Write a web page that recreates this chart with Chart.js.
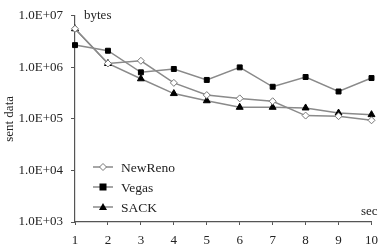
<!DOCTYPE html>
<html>
<head>
<meta charset="utf-8">
<script src="https://cdn.jsdelivr.net/npm/chart.js@4/dist/chart.umd.min.js"></script>
<style>
  html, body { margin: 0; padding: 0; background: #fff; }
  #wrap { width: 386px; height: 250px; }
</style>
</head>
<body>
<div id="wrap"><canvas id="chart" width="386" height="250"></canvas></div>
<script>
const seconds = ["1", "2", "3", "4", "5", "6", "7", "8", "9", "10"];
const newReno = [5.6e6, 1.19e6, 1.34e6, 5.0e5, 2.9e5, 2.5e5, 2.2e5, 1.16e5, 1.13e5, 9.4e4];
const vegas = [2.7e6, 2.1e6, 8.0e5, 9.3e5, 5.7e5, 1.0e6, 4.2e5, 6.5e5, 3.4e5, 6.2e5];
const sack = [5.6e6, 1.19e6, 6.0e5, 3.1e5, 2.25e5, 1.68e5, 1.68e5, 1.63e5, 1.3e5, 1.21e5];
const yTicks = [1e3, 1e4, 1e5, 1e6, 1e7];

const FONT = "'Liberation Serif', serif";
const LINE = '#8a8a8a';
const AXIS = '#555';

function marker(ctx, style, x, y) {
  ctx.save();
  ctx.lineWidth = 1;
  if (style === 'rect') {
    ctx.fillStyle = '#000';
    ctx.fillRect(x - 3.5, y - 3.5, 7, 7);
  } else if (style === 'triangle') {
    ctx.fillStyle = '#000';
    ctx.beginPath();
    ctx.moveTo(x, y - 4);
    ctx.lineTo(x + 4, y + 3);
    ctx.lineTo(x - 4, y + 3);
    ctx.closePath();
    ctx.fill();
  } else {
    ctx.fillStyle = '#fff';
    ctx.strokeStyle = '#777';
    ctx.beginPath();
    ctx.moveTo(x, y - 3.5);
    ctx.lineTo(x + 3.5, y);
    ctx.lineTo(x, y + 3.5);
    ctx.lineTo(x - 3.5, y);
    ctx.closePath();
    ctx.fill();
    ctx.stroke();
  }
  ctx.restore();
}

const extras = {
  id: 'extras',
  afterDraw(chart) {
    const ctx = chart.ctx;
    const area = chart.chartArea;
    ctx.save();
    ctx.fillStyle = '#222';
    ctx.font = '13px ' + FONT;
    ctx.textBaseline = 'alphabetic';
    ctx.textAlign = 'left';
    ctx.fillText('bytes', area.left + 9, area.top + 3);
    ctx.textAlign = 'right';
    ctx.fillText('sec', area.right + 6, area.bottom - 7);

    // legend
    const items = [['NewReno', 'rectRot'], ['Vegas', 'rect'], ['SACK', 'triangle']];
    ctx.font = '13.5px ' + FONT;
    ctx.textAlign = 'left';
    ctx.textBaseline = 'middle';
    items.forEach((it, i) => {
      const y = 167 + i * 20;
      ctx.strokeStyle = LINE;
      ctx.lineWidth = 1.5;
      ctx.beginPath();
      ctx.moveTo(93, y);
      ctx.lineTo(113, y);
      ctx.stroke();
      marker(ctx, it[1], 103, y);
      ctx.fillStyle = '#222';
      ctx.fillText(it[0], 121, y + 1);
    });
    ctx.restore();
  }
};

function ds(label, data, style, fill, border) {
  return {
    label, data,
    borderColor: LINE,
    borderWidth: 1.5,
    pointStyle: style,
    pointRadius: style === 'triangle' ? 4 : 3.5,
    pointBackgroundColor: fill,
    pointBorderColor: border,
    pointBorderWidth: 1,
    tension: 0
  };
}

function draw() {
  new Chart(document.getElementById('chart'), {
    type: 'line',
    data: {
      labels: seconds,
      datasets: [
        ds('NewReno', newReno, 'rectRot', '#fff', '#777'),
        ds('Vegas', vegas, 'rect', '#000', '#000'),
        ds('SACK', sack, 'triangle', '#000', '#000')
      ]
    },
    options: {
      responsive: false,
      animation: false,
      layout: { padding: { top: 6, right: 11, left: 0, bottom: 0 } },
      plugins: { legend: { display: false }, tooltip: { enabled: false } },
      scales: {
        x: {
          offset: false,
          afterFit: (axis) => { axis.height = 28; },
          grid: { display: true, drawOnChartArea: false, tickLength: 3, color: AXIS },
          border: { color: AXIS, width: 1.2 },
          ticks: { color: '#222', font: { family: FONT, size: 13 }, padding: 8, maxRotation: 0 }
        },
        y: {
          type: 'logarithmic',
          min: 1e3,
          max: 1e7,
          afterBuildTicks: (axis) => { axis.ticks = yTicks.map(v => ({ value: v })); },
          afterFit: (axis) => { axis.width = 75; },
          grid: { display: true, drawOnChartArea: false, tickLength: 4, color: AXIS },
          border: { color: AXIS, width: 1.2 },
          ticks: {
            color: '#222',
            font: { family: FONT, size: 13 },
            padding: 8,
            callback: (v) => '1.0E+0' + Math.round(Math.log10(v))
          },
          title: {
            display: true,
            text: 'sent data',
            color: '#222',
            font: { family: FONT, size: 13 },
            padding: { top: 2, bottom: 0 }
          }
        }
      }
    },
    plugins: [extras]
  });
}

document.fonts.load("13px 'Liberation Serif'").then(draw, draw);
</script>
</body>
</html>
